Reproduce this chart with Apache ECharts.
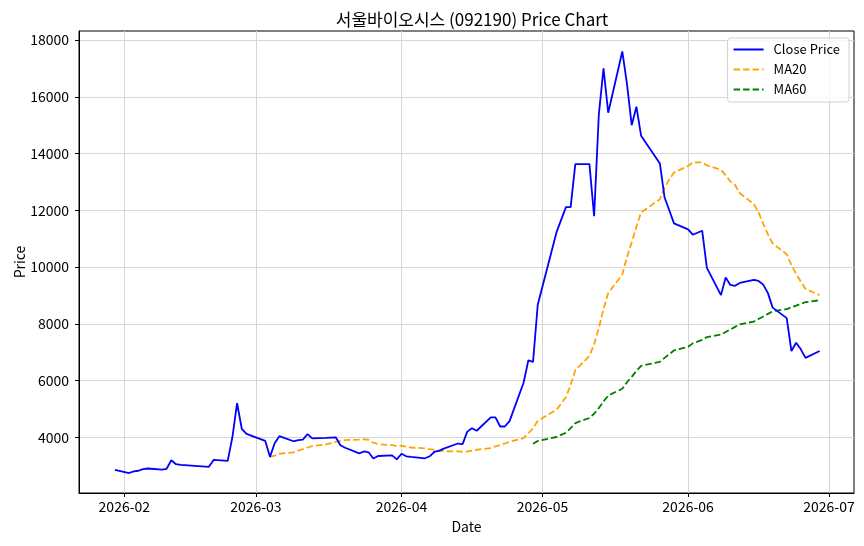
<!DOCTYPE html>
<html>
<head>
<meta charset="utf-8">
<script src="https://cdn.jsdelivr.net/npm/echarts@6/dist/echarts.min.js"></script>
<style>
html, body { margin: 0; padding: 0; background: #fff; }
#chart { width: 864px; height: 546px; }
</style>
</head>
<body>
<div id="chart"></div>
<script>
// trading days (KRX)
const dates = [
    '2026-01-30',
    '2026-02-02', '2026-02-03', '2026-02-04', '2026-02-05', '2026-02-06',
    '2026-02-09', '2026-02-10', '2026-02-11', '2026-02-12', '2026-02-13',
    '2026-02-19', '2026-02-20',
    '2026-02-23', '2026-02-24', '2026-02-25', '2026-02-26', '2026-02-27',
    '2026-03-03', '2026-03-04', '2026-03-05', '2026-03-06',
    '2026-03-09', '2026-03-10', '2026-03-11', '2026-03-12', '2026-03-13',
    '2026-03-16', '2026-03-17', '2026-03-18', '2026-03-19', '2026-03-20',
    '2026-03-23', '2026-03-24', '2026-03-25', '2026-03-26', '2026-03-27',
    '2026-03-30', '2026-03-31', '2026-04-01', '2026-04-02', '2026-04-03',
    '2026-04-06', '2026-04-07', '2026-04-08', '2026-04-09', '2026-04-10',
    '2026-04-13', '2026-04-14', '2026-04-15', '2026-04-16', '2026-04-17',
    '2026-04-20', '2026-04-21', '2026-04-22', '2026-04-23', '2026-04-24',
    '2026-04-27', '2026-04-28', '2026-04-29', '2026-04-30',
    '2026-05-04', '2026-05-06', '2026-05-07', '2026-05-08',
    '2026-05-11', '2026-05-12', '2026-05-13', '2026-05-14', '2026-05-15',
    '2026-05-18', '2026-05-19', '2026-05-20', '2026-05-21', '2026-05-22',
    '2026-05-26', '2026-05-27', '2026-05-28', '2026-05-29',
    '2026-06-01', '2026-06-02', '2026-06-04', '2026-06-05',
    '2026-06-08', '2026-06-09', '2026-06-10', '2026-06-11', '2026-06-12',
    '2026-06-15', '2026-06-16', '2026-06-17', '2026-06-18', '2026-06-19',
    '2026-06-22', '2026-06-23', '2026-06-24', '2026-06-25', '2026-06-26',
    '2026-06-29'
];

const closePrice = [
    2850,
    2740, 2800, 2820, 2880, 2900,
    2860, 2890, 3190, 3050, 3030,
    2960, 3200,
    3170, 4000, 5200, 4300, 4120,
    3870, 3310, 3790, 4040,
    3860, 3900, 3920, 4110, 3960,
    3980, 3990, 4000, 3720, 3630,
    3430, 3500, 3470, 3250, 3340,
    3360, 3220, 3420, 3330, 3310,
    3260, 3330, 3490, 3520, 3600,
    3780, 3760, 4200, 4320, 4230,
    4700, 4700, 4380, 4380, 4570,
    5930, 6710, 6660, 8670,
    11230, 12110, 12110, 13630,
    13630, 11790, 15370, 17000, 15440,
    17600, 16450, 15000, 15650, 14630,
    13650, 12450, 12000, 11540,
    11330, 11140, 11280, 9970,
    9010, 9630, 9370, 9340, 9440,
    9550, 9510, 9380, 9080, 8570,
    8200, 7040, 7330, 7100, 6800,
    7040
];

// MA20 from 2026-03-04 on
const ma20 = [
    3310, 3350, 3420, 3470, 3530, 3580, 3640, 3690, 3750, 3790,
    3840, 3870, 3900, 3920, 3930, 3910, 3810, 3760, 3720, 3690,
    3700, 3670, 3640, 3610, 3580, 3560, 3530, 3510, 3500, 3490,
    3500, 3530, 3560, 3620, 3680, 3730, 3780, 3840, 3970, 4150,
    4310, 4580, 4970, 5410, 5850, 6360, 6870, 7280, 7850, 8520,
    9080, 9740, 10350, 10870, 11420, 11930, 12390, 12790, 13090, 13330,
    13560, 13690, 13690, 13580, 13430, 13230, 13020, 12890, 12600, 12220,
    11930, 11520, 11150, 10830, 10450, 10070, 9760, 9490, 9230, 9010
];

// MA60 from 2026-04-29 on
const ma60 = [
    3770, 3870, 4010, 4160, 4320, 4500, 4680, 4830, 5030, 5260,
    5470, 5710, 5940, 6130, 6340, 6520, 6660, 6800, 6930, 7060,
    7190, 7310, 7430, 7530, 7620, 7710, 7800, 7890, 7980, 8080,
    8170, 8260, 8350, 8440, 8520, 8580, 8640, 8710, 8760, 8830
];

const monthTicks = ['2026-02-01', '2026-03-01', '2026-04-01', '2026-05-01', '2026-06-01', '2026-07-01'];
const priceTicks = [4000, 6000, 8000, 10000, 12000, 14000, 16000, 18000];

function toTime(s) {
    const p = s.split('-');
    return Date.UTC(+p[0], +p[1] - 1, +p[2]);
}
function toPairs(vals) {
    const off = dates.length - vals.length;
    return vals.map((v, i) => [toTime(dates[i + off]), v]);
}
function fmtMonth(v) {
    const d = new Date(v);
    const m = d.getUTCMonth() + 1;
    return d.getUTCFullYear() + '-' + (m < 10 ? '0' + m : m);
}

const FONT = '"Noto Sans CJK KR", "Noto Sans", sans-serif';
const monthTimes = monthTicks.map(toTime);

const chart = echarts.init(document.getElementById('chart'), null, { renderer: 'canvas' });

const option = {
    backgroundColor: '#fff',
    animation: false,
    textStyle: { fontFamily: FONT },
    title: {
        text: '서울바이오시스 (092190) Price Chart',
        left: 467,
        top: 6,
        textAlign: 'center',
        textStyle: { fontFamily: FONT, fontSize: 17, fontWeight: 'normal', color: '#000' }
    },
    grid: {
        left: 79,
        right: 10,
        top: 31,
        bottom: 53,
        show: true,
        borderColor: '#000',
        borderWidth: 1,
        containLabel: false,
        outerBoundsMode: 'none'
    },
    legend: {
        orient: 'vertical',
        right: 15,
        top: 38,
        padding: [5, 9, 6, 5],
        itemWidth: 30,
        itemHeight: 14,
        itemGap: 7,
        backgroundColor: 'rgba(255,255,255,0.8)',
        borderColor: '#d0d0d0',
        borderWidth: 1,
        borderRadius: 3,
        itemStyle: { opacity: 0 },
        textStyle: { fontFamily: FONT, fontSize: 13, color: '#000', padding: [0, 0, 0, 5] },
        data: ['Close Price', 'MA20', 'MA60']
    },
    xAxis: {
        type: 'value',
        min: Date.UTC(2026, 0, 22, 8, 24),
        max: Date.UTC(2026, 6, 6, 7, 40),
        name: 'Date',
        nameLocation: 'middle',
        nameGap: 27,
        nameMoveOverlap: false,
        nameTextStyle: { fontFamily: FONT, fontSize: 14, color: '#000' },
        axisLine: { show: true, lineStyle: { color: '#000', width: 1 } },
        axisTick: { show: true, length: 4, customValues: monthTimes, lineStyle: { color: '#000' } },
        axisLabel: {
            customValues: monthTimes,
            formatter: fmtMonth,
            fontFamily: FONT,
            fontSize: 14,
            color: '#000',
            margin: 7
        },
        splitLine: { show: true, lineStyle: { color: '#d6d6d6', width: 1 } }
    },
    yAxis: {
        type: 'value',
        min: 2036,
        max: 18320,
        name: 'Price',
        nameLocation: 'middle',
        nameGap: 52,
        nameMoveOverlap: false,
        nameTextStyle: { fontFamily: FONT, fontSize: 14, color: '#000' },
        axisLine: { show: true, lineStyle: { color: '#000', width: 1 } },
        axisTick: { show: true, length: 4, customValues: priceTicks, lineStyle: { color: '#000' } },
        axisLabel: {
            customValues: priceTicks,
            formatter: v => String(v),
            fontFamily: FONT,
            fontSize: 14,
            color: '#000',
            margin: 10
        },
        splitLine: { show: true, lineStyle: { color: '#d6d6d6', width: 1 } }
    },
    series: [
        {
            name: 'Close Price',
            type: 'line',
            data: toPairs(closePrice),
            symbol: 'none',
            lineStyle: { color: '#0000ff', width: 1.8 },
            itemStyle: { color: '#0000ff' },
            z: 3
        },
        {
            name: 'MA20',
            type: 'line',
            data: toPairs(ma20),
            symbol: 'none',
            lineStyle: { color: '#ffa500', width: 1.8, type: [6.5, 3] },
            itemStyle: { color: '#ffa500' },
            z: 2
        },
        {
            name: 'MA60',
            type: 'line',
            data: toPairs(ma60),
            symbol: 'none',
            lineStyle: { color: '#008000', width: 1.8, type: [6.5, 3] },
            itemStyle: { color: '#008000' },
            z: 2
        }
    ]
};

chart.setOption(option);
</script>
</body>
</html>
